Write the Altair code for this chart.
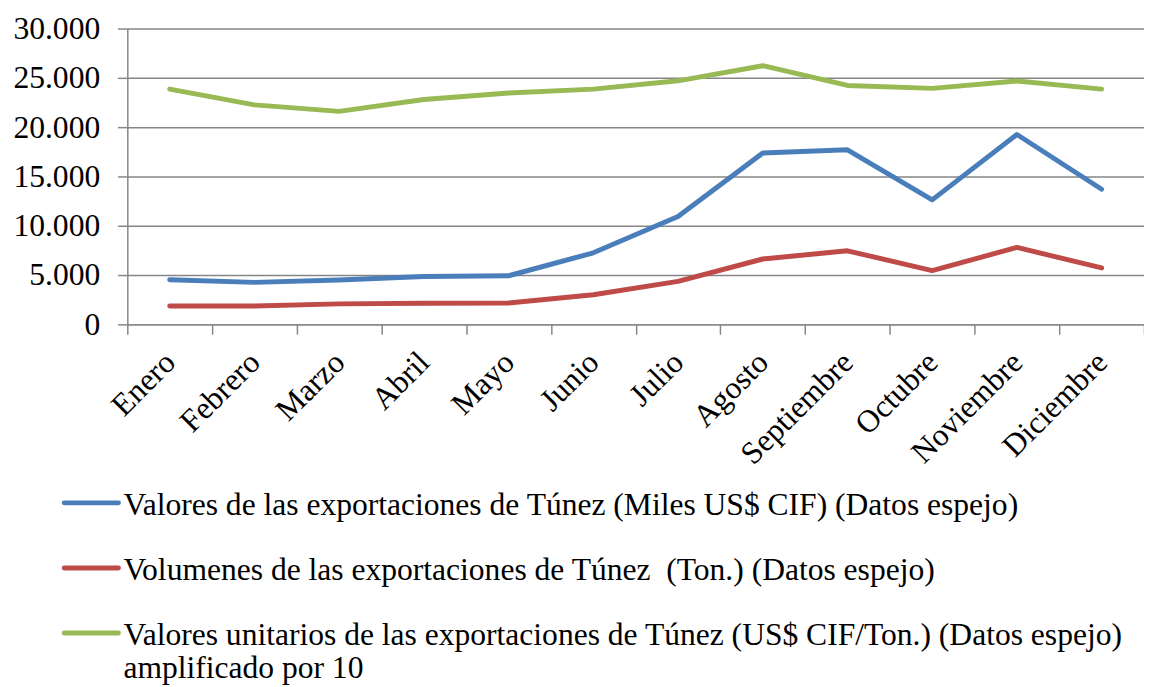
import altair as alt
import pandas as pd

months = ["Enero", "Febrero", "Marzo", "Abril", "Mayo", "Junio", "Julio",
          "Agosto", "Septiembre", "Octubre", "Noviembre", "Diciembre"]
valores = [4530, 4260, 4500, 4860, 4930, 7260, 10930, 17380, 17700, 12630, 19260, 13700]
volumenes = [1860, 1860, 2080, 2150, 2160, 3000, 4360, 6630, 7460, 5460, 7800, 5730]
unitarios = [23860, 22260, 21600, 22800, 23460, 23860, 24700, 26230, 24230, 23930, 24680, 23860]

series = ["valores", "volumenes", "unitarios"]
legend_labels = [
    "Valores de las exportaciones de Túnez (Miles US$ CIF) (Datos espejo)",
    "Volumenes de las exportaciones de Túnez \u00a0(Ton.) (Datos espejo)",
    "Valores unitarios de las exportaciones de Túnez (US$ CIF/Ton.) (Datos espejo)\namplificado por 10",
]
colors = ["#4A7EBB", "#BE4B48", "#98B954"]
y_ticks = [0, 5000, 10000, 15000, 20000, 25000, 30000]

rows = []
for s, vals in zip(series, [valores, volumenes, unitarios]):
    for m, v in zip(months, vals):
        rows.append({"mes": m, "serie": s, "valor": v})
df = pd.DataFrame(rows)
leg = pd.DataFrame({"serie": series, "label": legend_labels, "fila": [0, 1, 2]})

FONT = "Liberation Serif"
GRAY = "#868686"
FS = 32

color = alt.Color("serie:N", scale=alt.Scale(domain=series, range=colors), legend=None)

lines = alt.Chart(df).mark_line(strokeWidth=5, strokeCap="round", strokeJoin="round").encode(
    x=alt.X("mes:N", sort=months, bandPosition=0.5,
            scale=alt.Scale(type="band", paddingInner=0, paddingOuter=0),
            axis=alt.Axis(title=None, labelAngle=-45, labelAlign="right", labelBaseline="middle",
                          labelFont=FONT, labelFontSize=FS,
                          labelColor="black", tickBand="extent", tickSize=10, tickColor=GRAY,
                          tickWidth=1.5, domainColor=GRAY, domainWidth=1.5, grid=False,
                          labelPadding=23, labelOverlap=False, labelLimit=400)),
    y=alt.Y("valor:Q", scale=alt.Scale(domain=[0, 30000]),
            axis=alt.Axis(title=None, values=y_ticks,
                          labelExpr="replace(format(datum.value, ','), ',', '.')",
                          labelFont=FONT, labelFontSize=FS, labelColor="black",
                          grid=True, gridColor=GRAY, gridWidth=1.5, tickSize=10,
                          tickColor=GRAY, tickWidth=1.5, domainColor=GRAY, domainWidth=1.5,
                          labelPadding=18)),
    color=color,
)

ly = alt.Y("fila:Q", scale=alt.Scale(domain=[0, 2], range=[481, 613]), axis=None)

rules = alt.Chart(leg).mark_rule(strokeWidth=5, strokeCap="round").encode(
    x=alt.value(-64), x2=alt.value(-9), y=ly, color=color
)
texts = alt.Chart(leg).mark_text(align="left", baseline="alphabetic", dy=12, font=FONT,
                                 fontSize=FS, lineBreak="\n", lineHeight=34,
                                 color="black").encode(
    x=alt.value(-4), y=ly, text="label:N"
)

chart = alt.layer(lines, rules, texts).resolve_scale(y="independent").properties(
    width=1031, height=300,
    autosize=alt.AutoSizeParams(type="none"),
    padding={"left": 121, "top": 16, "right": 0, "bottom": 370},
).configure(font=FONT).configure_axis(labelFont=FONT).configure_view(stroke=None)

chart.save("out.html", embed_options={"renderer": "svg", "actions": False})
